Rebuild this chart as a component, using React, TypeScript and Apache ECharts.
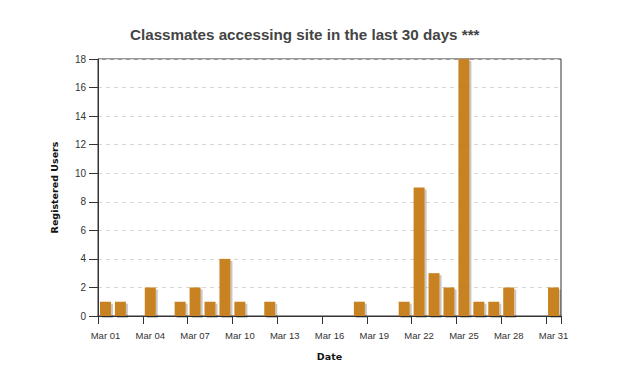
import React, { useEffect, useRef } from "react";
import * as echarts from "echarts";

const days: string[] = [
  "Mar 01", "Mar 02", "Mar 03", "Mar 04", "Mar 05", "Mar 06", "Mar 07", "Mar 08",
  "Mar 09", "Mar 10", "Mar 11", "Mar 12", "Mar 13", "Mar 14", "Mar 15", "Mar 16",
  "Mar 17", "Mar 18", "Mar 19", "Mar 20", "Mar 21", "Mar 22", "Mar 23", "Mar 24",
  "Mar 25", "Mar 26", "Mar 27", "Mar 28", "Mar 29", "Mar 30", "Mar 31",
];
const registeredUsers: number[] = [
  1, 1, 0, 2, 0, 1, 2, 1, 4, 1, 0, 1, 0, 0, 0, 0,
  0, 1, 0, 0, 1, 9, 3, 2, 18, 1, 1, 2, 0, 0, 2,
];
const yTicks = { min: 0, max: 18, interval: 2 };

const titleText = "Classmates accessing site in the last 30 days ***";

export default function App() {
  const ref = useRef<HTMLDivElement>(null);
  useEffect(() => {
    if (!ref.current) return;
    const chart = echarts.init(ref.current, null, { renderer: "svg" });
    chart.setOption({
      animation: false,
      backgroundColor: "#ffffff",
      title: {
        text: titleText,
        left: 130,
        top: 27,
        padding: 0,
        textStyle: {
          fontFamily: "Liberation Sans, Arial, Helvetica, sans-serif",
          fontWeight: "bold",
          fontSize: 15.2,
          color: "#444444",
        },
      },
      grid: {
        left: 98,
        right: 65,
        top: 59,
        bottom: 47,
        show: true,
        borderColor: "#333333",
        borderWidth: 1,
        backgroundColor: "transparent",
      },
      xAxis: {
        type: "category",
        data: days,
        boundaryGap: true,
        name: "Date",
        nameLocation: "middle",
        nameGap: 35,
        nameTextStyle: {
          fontFamily: "DejaVu Sans, sans-serif",
          fontWeight: "bold",
          fontSize: 9.5,
          color: "#111111",
        },
        axisLine: { show: true, lineStyle: { color: "#333333", width: 1 } },
        axisTick: {
          show: true,
          interval: 2,
          alignWithLabel: false,
          length: 8,
          lineStyle: { color: "#333333" },
        },
        axisLabel: {
          interval: 2,
          margin: 14,
          fontFamily: "Liberation Sans, Arial, sans-serif",
          fontSize: 9.5,
          color: "#333333",
        },
        splitLine: { show: false },
      },
      yAxis: {
        type: "value",
        min: yTicks.min,
        max: yTicks.max,
        interval: yTicks.interval,
        name: "Registered Users",
        nameLocation: "middle",
        nameGap: 39,
        nameTextStyle: {
          fontFamily: "DejaVu Sans, sans-serif",
          fontWeight: "bold",
          fontSize: 9.5,
          color: "#111111",
        },
        axisLine: { show: true, lineStyle: { color: "#333333", width: 1 } },
        axisTick: { show: true, length: 9, lineStyle: { color: "#333333" } },
        axisLabel: {
          margin: 12,
          fontFamily: "Liberation Sans, Arial, sans-serif",
          fontSize: 10,
          color: "#333333",
        },
        splitLine: {
          show: true,
          lineStyle: { color: "#d8d8d8", type: [4, 4], width: 1 },
        },
      },
      series: [
        {
          type: "bar",
          data: registeredUsers,
          barWidth: 11,
          itemStyle: {
            color: "#c98220",
            shadowColor: "rgba(0,0,0,0.22)",
            shadowBlur: 1,
            shadowOffsetX: 2,
            shadowOffsetY: 2,
          },
        },
      ],
    });
    return () => chart.dispose();
  }, []);
  return (
    <div
      ref={ref}
      style={{ position: "fixed", left: 0, top: 0, width: 626, height: 366 }}
    />
  );
}
